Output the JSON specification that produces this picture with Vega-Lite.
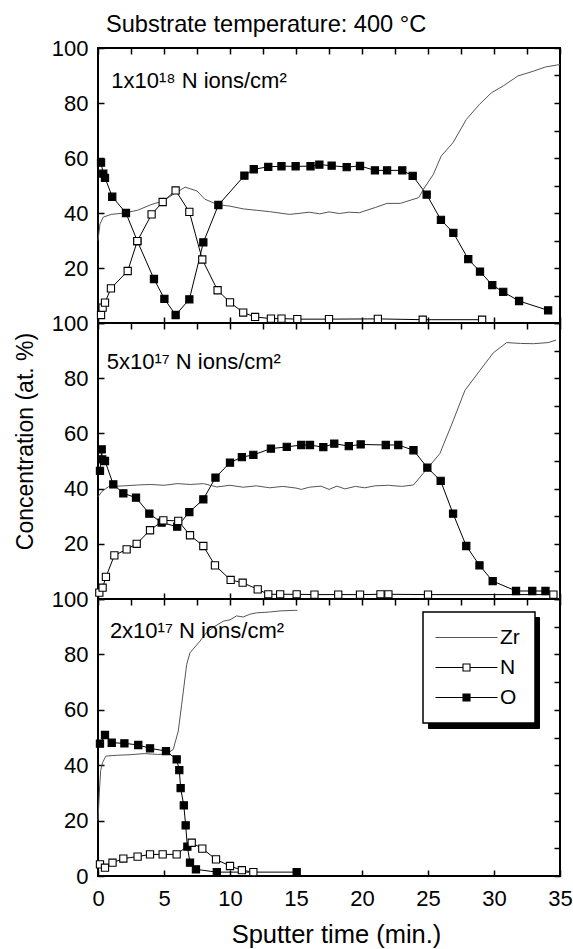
{
  "$schema": "https://vega.github.io/schema/vega-lite/v6.json",
  "background": "white",
  "padding": {"left": 12, "top": 12, "right": 0, "bottom": 0},
  "spacing": 0,
  "bounds": "flush",
  "datasets": {
    "profiles": [
      {"panel":1,"element":"O","time":0.23,"conc":58.3},{"panel":1,"element":"O","time":0.4,"conc":54.3},{"panel":1,"element":"O","time":0.53,"conc":52.8},{"panel":1,"element":"O","time":1.08,"conc":45.9},{"panel":1,"element":"O","time":2.12,"conc":40},{"panel":1,"element":"O","time":2.98,"conc":29.8},{"panel":1,"element":"O","time":4.24,"conc":16},{"panel":1,"element":"O","time":5.03,"conc":8.8},{"panel":1,"element":"O","time":5.88,"conc":2.9},{"panel":1,"element":"O","time":6.92,"conc":8.6},{"panel":1,"element":"O","time":7.98,"conc":29.3},{"panel":1,"element":"O","time":9.12,"conc":42.9},{"panel":1,"element":"O","time":11.09,"conc":53.6},{"panel":1,"element":"O","time":11.8,"conc":55.9},{"panel":1,"element":"O","time":12.9,"conc":56.8},{"panel":1,"element":"O","time":13.9,"conc":57},{"panel":1,"element":"O","time":14.97,"conc":57},{"panel":1,"element":"O","time":16.1,"conc":57},{"panel":1,"element":"O","time":16.77,"conc":57.6},{"panel":1,"element":"O","time":17.7,"conc":57.2},{"panel":1,"element":"O","time":18.84,"conc":56.7},{"panel":1,"element":"O","time":19.85,"conc":57.1},{"panel":1,"element":"O","time":20.98,"conc":55.5},{"panel":1,"element":"O","time":21.9,"conc":55.5},{"panel":1,"element":"O","time":23.05,"conc":55.5},{"panel":1,"element":"O","time":23.84,"conc":53.5},{"panel":1,"element":"O","time":24.9,"conc":46.7},{"panel":1,"element":"O","time":25.98,"conc":37.5},{"panel":1,"element":"O","time":26.92,"conc":32.8},{"panel":1,"element":"O","time":28.05,"conc":23.2},{"panel":1,"element":"O","time":28.94,"conc":18.7},{"panel":1,"element":"O","time":29.87,"conc":13.8},{"panel":1,"element":"O","time":30.7,"conc":11.3},{"panel":1,"element":"O","time":31.9,"conc":8},{"panel":1,"element":"O","time":34.1,"conc":4.6},
      {"panel":1,"element":"N","time":0.23,"conc":2.9},{"panel":1,"element":"N","time":0.35,"conc":5.6},{"panel":1,"element":"N","time":0.53,"conc":7.4},{"panel":1,"element":"N","time":0.98,"conc":12.6},{"panel":1,"element":"N","time":2.25,"conc":18.9},{"panel":1,"element":"N","time":2.98,"conc":29.8},{"panel":1,"element":"N","time":4.06,"conc":39.5},{"panel":1,"element":"N","time":4.9,"conc":44},{"panel":1,"element":"N","time":5.88,"conc":48.2},{"panel":1,"element":"N","time":6.92,"conc":40.4},{"panel":1,"element":"N","time":7.9,"conc":23.1},{"panel":1,"element":"N","time":9.06,"conc":11.9},{"panel":1,"element":"N","time":10,"conc":7.5},{"panel":1,"element":"N","time":11,"conc":3.8},{"panel":1,"element":"N","time":11.9,"conc":2.2},{"panel":1,"element":"N","time":13.1,"conc":1.6},{"panel":1,"element":"N","time":13.9,"conc":1.6},{"panel":1,"element":"N","time":15.1,"conc":1.4},{"panel":1,"element":"N","time":17.5,"conc":1.4},{"panel":1,"element":"N","time":21.2,"conc":1.5},{"panel":1,"element":"N","time":24.6,"conc":1.2},{"panel":1,"element":"N","time":29.1,"conc":1.2},
      {"panel":1,"element":"Zr","time":0,"conc":30},{"panel":1,"element":"Zr","time":0.15,"conc":36},{"panel":1,"element":"Zr","time":0.4,"conc":38.5},{"panel":1,"element":"Zr","time":1,"conc":39.5},{"panel":1,"element":"Zr","time":2,"conc":40},{"panel":1,"element":"Zr","time":3,"conc":41},{"panel":1,"element":"Zr","time":4,"conc":43},{"panel":1,"element":"Zr","time":5,"conc":44.5},{"panel":1,"element":"Zr","time":5.7,"conc":46.8},{"panel":1,"element":"Zr","time":6.6,"conc":49.4},{"panel":1,"element":"Zr","time":7.5,"conc":48},{"panel":1,"element":"Zr","time":8.1,"conc":45},{"panel":1,"element":"Zr","time":9.1,"conc":43},{"panel":1,"element":"Zr","time":10,"conc":42.5},{"panel":1,"element":"Zr","time":11,"conc":41.5},{"panel":1,"element":"Zr","time":12,"conc":41},{"panel":1,"element":"Zr","time":13,"conc":40.5},{"panel":1,"element":"Zr","time":14.5,"conc":39.5},{"panel":1,"element":"Zr","time":15.3,"conc":39.9},{"panel":1,"element":"Zr","time":16,"conc":40.3},{"panel":1,"element":"Zr","time":16.8,"conc":39.7},{"panel":1,"element":"Zr","time":17.5,"conc":40.4},{"panel":1,"element":"Zr","time":18.3,"conc":39.8},{"panel":1,"element":"Zr","time":19,"conc":40.3},{"panel":1,"element":"Zr","time":19.8,"conc":40.1},{"panel":1,"element":"Zr","time":21,"conc":42},{"panel":1,"element":"Zr","time":21.9,"conc":43.5},{"panel":1,"element":"Zr","time":22.9,"conc":43.5},{"panel":1,"element":"Zr","time":24.3,"conc":45.6},{"panel":1,"element":"Zr","time":24.65,"conc":48.6},{"panel":1,"element":"Zr","time":25.4,"conc":54},{"panel":1,"element":"Zr","time":26,"conc":60.7},{"panel":1,"element":"Zr","time":26.9,"conc":65.6},{"panel":1,"element":"Zr","time":27.9,"conc":74},{"panel":1,"element":"Zr","time":28.9,"conc":79.5},{"panel":1,"element":"Zr","time":29.8,"conc":83.7},{"panel":1,"element":"Zr","time":30.7,"conc":86.2},{"panel":1,"element":"Zr","time":31.8,"conc":89.8},{"panel":1,"element":"Zr","time":33,"conc":91.6},{"panel":1,"element":"Zr","time":33.9,"conc":93.1},{"panel":1,"element":"Zr","time":34.75,"conc":93.8},{"panel":1,"element":"Zr","time":35,"conc":94},
      {"panel":2,"element":"O","time":0.15,"conc":46.4},{"panel":2,"element":"O","time":0.28,"conc":54.2},{"panel":2,"element":"O","time":0.32,"conc":50.6},{"panel":2,"element":"O","time":0.53,"conc":50},{"panel":2,"element":"O","time":1.16,"conc":41.5},{"panel":2,"element":"O","time":1.92,"conc":38.3},{"panel":2,"element":"O","time":2.88,"conc":36.7},{"panel":2,"element":"O","time":3.89,"conc":30.9},{"panel":2,"element":"O","time":4.82,"conc":27.7},{"panel":2,"element":"O","time":6.0,"conc":26.2},{"panel":2,"element":"O","time":6.92,"conc":31.5},{"panel":2,"element":"O","time":7.98,"conc":36.1},{"panel":2,"element":"O","time":8.9,"conc":44},{"panel":2,"element":"O","time":10,"conc":49.4},{"panel":2,"element":"O","time":10.9,"conc":51.4},{"panel":2,"element":"O","time":11.77,"conc":52.2},{"panel":2,"element":"O","time":13.1,"conc":54.5},{"panel":2,"element":"O","time":14.3,"conc":55.1},{"panel":2,"element":"O","time":15.4,"conc":55.8},{"panel":2,"element":"O","time":16.06,"conc":55.8},{"panel":2,"element":"O","time":17.07,"conc":55},{"panel":2,"element":"O","time":17.9,"conc":56.3},{"panel":2,"element":"O","time":19,"conc":55.4},{"panel":2,"element":"O","time":19.9,"conc":56},{"panel":2,"element":"O","time":21.8,"conc":55.8},{"panel":2,"element":"O","time":22.75,"conc":55.8},{"panel":2,"element":"O","time":23.9,"conc":53.9},{"panel":2,"element":"O","time":24.95,"conc":47.6},{"panel":2,"element":"O","time":25.96,"conc":42.8},{"panel":2,"element":"O","time":26.9,"conc":30.9},{"panel":2,"element":"O","time":27.9,"conc":19.2},{"panel":2,"element":"O","time":28.9,"conc":12.2},{"panel":2,"element":"O","time":29.9,"conc":6.5},{"panel":2,"element":"O","time":31.67,"conc":2.9},{"panel":2,"element":"O","time":32.9,"conc":2.9},{"panel":2,"element":"O","time":33.9,"conc":2.9},
      {"panel":2,"element":"N","time":0.1,"conc":2.3},{"panel":2,"element":"N","time":0.35,"conc":4.1},{"panel":2,"element":"N","time":0.6,"conc":8},{"panel":2,"element":"N","time":1.24,"conc":15.8},{"panel":2,"element":"N","time":2.17,"conc":18},{"panel":2,"element":"N","time":2.93,"conc":20},{"panel":2,"element":"N","time":3.94,"conc":24.9},{"panel":2,"element":"N","time":4.95,"conc":28.5},{"panel":2,"element":"N","time":6.08,"conc":28.3},{"panel":2,"element":"N","time":6.97,"conc":23.1},{"panel":2,"element":"N","time":7.98,"conc":19.2},{"panel":2,"element":"N","time":8.86,"conc":12.2},{"panel":2,"element":"N","time":10.05,"conc":6.9},{"panel":2,"element":"N","time":10.96,"conc":5.9},{"panel":2,"element":"N","time":12.1,"conc":3.5},{"panel":2,"element":"N","time":12.9,"conc":1.7},{"panel":2,"element":"N","time":13.8,"conc":1.7},{"panel":2,"element":"N","time":15.05,"conc":1.7},{"panel":2,"element":"N","time":16.4,"conc":1.6},{"panel":2,"element":"N","time":18.2,"conc":1.6},{"panel":2,"element":"N","time":19.85,"conc":1.6},{"panel":2,"element":"N","time":21.4,"conc":1.7},{"panel":2,"element":"N","time":22,"conc":1.7},{"panel":2,"element":"N","time":25,"conc":1.6},{"panel":2,"element":"N","time":34.5,"conc":1.6},
      {"panel":2,"element":"Zr","time":0,"conc":37},{"panel":2,"element":"Zr","time":0.3,"conc":39},{"panel":2,"element":"Zr","time":0.8,"conc":40.7},{"panel":2,"element":"Zr","time":2,"conc":41},{"panel":2,"element":"Zr","time":3,"conc":41.3},{"panel":2,"element":"Zr","time":4,"conc":41.5},{"panel":2,"element":"Zr","time":5,"conc":41.2},{"panel":2,"element":"Zr","time":6,"conc":41.8},{"panel":2,"element":"Zr","time":7,"conc":41.5},{"panel":2,"element":"Zr","time":8,"conc":41.8},{"panel":2,"element":"Zr","time":9,"conc":40.6},{"panel":2,"element":"Zr","time":10,"conc":41.2},{"panel":2,"element":"Zr","time":11,"conc":40.5},{"panel":2,"element":"Zr","time":12,"conc":41},{"panel":2,"element":"Zr","time":13,"conc":40.3},{"panel":2,"element":"Zr","time":14,"conc":40.8},{"panel":2,"element":"Zr","time":15,"conc":40.2},{"panel":2,"element":"Zr","time":15.4,"conc":39.7},{"panel":2,"element":"Zr","time":16,"conc":40.5},{"panel":2,"element":"Zr","time":16.9,"conc":40.9},{"panel":2,"element":"Zr","time":17.5,"conc":39.7},{"panel":2,"element":"Zr","time":18.1,"conc":40.9},{"panel":2,"element":"Zr","time":18.7,"conc":39.9},{"panel":2,"element":"Zr","time":19.5,"conc":40.8},{"panel":2,"element":"Zr","time":20.2,"conc":40.3},{"panel":2,"element":"Zr","time":21,"conc":41},{"panel":2,"element":"Zr","time":22,"conc":41.2},{"panel":2,"element":"Zr","time":23,"conc":40.8},{"panel":2,"element":"Zr","time":23.9,"conc":41.3},{"panel":2,"element":"Zr","time":25,"conc":47.6},{"panel":2,"element":"Zr","time":25.9,"conc":52.7},{"panel":2,"element":"Zr","time":26.9,"conc":64.5},{"panel":2,"element":"Zr","time":27.8,"conc":75.6},{"panel":2,"element":"Zr","time":28.9,"conc":82.6},{"panel":2,"element":"Zr","time":29.95,"conc":89.2},{"panel":2,"element":"Zr","time":30.96,"conc":92.9},{"panel":2,"element":"Zr","time":32,"conc":92.6},{"panel":2,"element":"Zr","time":33,"conc":92.5},{"panel":2,"element":"Zr","time":34.1,"conc":92.9},{"panel":2,"element":"Zr","time":34.7,"conc":93.8},
      {"panel":3,"element":"O","time":0.15,"conc":47.8},{"panel":3,"element":"O","time":0.53,"conc":50.9},{"panel":3,"element":"O","time":1.04,"conc":48.1},{"panel":3,"element":"O","time":2,"conc":47.9},{"panel":3,"element":"O","time":3.05,"conc":47.3},{"panel":3,"element":"O","time":3.94,"conc":46.1},{"panel":3,"element":"O","time":5.15,"conc":45.1},{"panel":3,"element":"O","time":5.96,"conc":42.1},{"panel":3,"element":"O","time":6.16,"conc":38.2},{"panel":3,"element":"O","time":6.26,"conc":31.7},{"panel":3,"element":"O","time":6.5,"conc":25.5},{"panel":3,"element":"O","time":6.64,"conc":18.3},{"panel":3,"element":"O","time":6.77,"conc":10.6},{"panel":3,"element":"O","time":6.97,"conc":4.8},{"panel":3,"element":"O","time":7.42,"conc":2.4},{"panel":3,"element":"O","time":9,"conc":1.4},{"panel":3,"element":"O","time":15.05,"conc":1.4},
      {"panel":3,"element":"N","time":0.15,"conc":4.2},{"panel":3,"element":"N","time":0.53,"conc":3},{"panel":3,"element":"N","time":1.1,"conc":4.8},{"panel":3,"element":"N","time":1.92,"conc":6.3},{"panel":3,"element":"N","time":3,"conc":7},{"panel":3,"element":"N","time":3.94,"conc":7.8},{"panel":3,"element":"N","time":4.9,"conc":7.8},{"panel":3,"element":"N","time":5.96,"conc":7.8},{"panel":3,"element":"N","time":7.1,"conc":12},{"panel":3,"element":"N","time":7.9,"conc":9.9},{"panel":3,"element":"N","time":8.94,"conc":6},{"panel":3,"element":"N","time":10,"conc":3.6},{"panel":3,"element":"N","time":10.9,"conc":2.1},{"panel":3,"element":"N","time":11.77,"conc":1.4},
      {"panel":3,"element":"Zr","time":0,"conc":20},{"panel":3,"element":"Zr","time":0.1,"conc":30},{"panel":3,"element":"Zr","time":0.2,"conc":38},{"panel":3,"element":"Zr","time":0.35,"conc":41},{"panel":3,"element":"Zr","time":0.6,"conc":43.3},{"panel":3,"element":"Zr","time":1.5,"conc":43.6},{"panel":3,"element":"Zr","time":2.5,"conc":43.8},{"panel":3,"element":"Zr","time":3.5,"conc":44.2},{"panel":3,"element":"Zr","time":4.5,"conc":43.9},{"panel":3,"element":"Zr","time":5.2,"conc":44},{"panel":3,"element":"Zr","time":5.7,"conc":45.7},{"panel":3,"element":"Zr","time":6.08,"conc":52.3},{"panel":3,"element":"Zr","time":6.34,"conc":62},{"panel":3,"element":"Zr","time":6.72,"conc":76.4},{"panel":3,"element":"Zr","time":6.97,"conc":80.6},{"panel":3,"element":"Zr","time":7.73,"conc":84.8},{"panel":3,"element":"Zr","time":8.2,"conc":87.8},{"panel":3,"element":"Zr","time":8.8,"conc":90},{"panel":3,"element":"Zr","time":9.5,"conc":92},{"panel":3,"element":"Zr","time":10,"conc":92.5},{"panel":3,"element":"Zr","time":10.5,"conc":93.9},{"panel":3,"element":"Zr","time":11,"conc":93.5},{"panel":3,"element":"Zr","time":11.5,"conc":94.5},{"panel":3,"element":"Zr","time":12,"conc":95},{"panel":3,"element":"Zr","time":13,"conc":95.3},{"panel":3,"element":"Zr","time":13.8,"conc":95.7},{"panel":3,"element":"Zr","time":14.9,"conc":95.9},{"panel":3,"element":"Zr","time":15.1,"conc":95.9}
    ]
  },
  "vconcat": [
    {
      "width": 462, "height": 275,
      "title": {"text": "Substrate temperature: 400 °C", "anchor": "start", "frame": "group", "dx": 8, "offset": -19, "baseline": "alphabetic", "font": "Liberation Sans", "fontSize": 23.6, "fontWeight": "normal", "color": "black"},
      "layer": [
        {
          "data": {"name": "profiles"},
          "transform": [{"filter": "datum.panel === 1"}],
          "layer": [
            {
              "mark": {"type": "line", "strokeWidth": 1},
              "encoding": {
                "x": {"field": "time", "type": "quantitative", "scale": {"domain": [0, 35], "nice": false, "zero": false}, "axis": {"orient": "bottom", "values": [0,2.5,5,7.5,10,12.5,15,17.5,20,22.5,25,27.5,30,32.5,35], "labels": false, "title": null}},
                "y": {"field": "conc", "type": "quantitative", "scale": {"domain": [0, 100], "nice": false}, "axis": {"orient": "left", "values": [0,10,20,30,40,50,60,70,80,90,100], "labelExpr": "datum.value % 20 === 0 && datum.value > 0 ? datum.label : ''", "title": null}},
                "stroke": {"field": "element", "type": "nominal", "scale": {"domain": ["Zr", "N", "O"], "range": ["#555555", "black", "black"]}, "legend": null}
              }
            },
            {
              "transform": [{"filter": "datum.element !== 'Zr'"}],
              "mark": {"type": "point", "shape": "square", "size": 52, "filled": true, "opacity": 1, "strokeWidth": 1.1, "stroke": "black"},
              "encoding": {
                "x": {"field": "time", "type": "quantitative"},
                "y": {"field": "conc", "type": "quantitative"},
                "fill": {"field": "element", "type": "nominal", "scale": {"domain": ["N", "O"], "range": ["white", "black"]}, "legend": null}
              }
            }
          ]
        },
        {
          "data": {"values": [{"label": "1x10¹⁸ N ions/cm²"}]},
          "mark": {"type": "text", "align": "left", "baseline": "alphabetic", "font": "Liberation Sans", "fontSize": 22, "color": "black"},
          "encoding": {
            "text": {"field": "label"},
            "x": {"datum": 1.0, "type": "quantitative", "scale": {"domain": [0, 35], "nice": false, "zero": false}, "axis": {"orient": "top", "values": [0,2.5,5,7.5,10,12.5,15,17.5,20,22.5,25,27.5,30,32.5,35], "labels": false, "title": null}},
            "y": {"datum": 85.5, "type": "quantitative", "scale": {"domain": [0, 100], "nice": false}, "axis": {"orient": "right", "values": [0,10,20,30,40,50,60,70,80,90,100], "labels": false, "title": null}}
          }
        }
      ],
      "resolve": {"scale": {"x": "independent", "y": "independent"}}
    },
    {
      "width": 462, "height": 276,
      "layer": [
        {
          "data": {"name": "profiles"},
          "transform": [{"filter": "datum.panel === 2"}],
          "layer": [
            {
              "mark": {"type": "line", "strokeWidth": 1},
              "encoding": {
                "x": {"field": "time", "type": "quantitative", "scale": {"domain": [0, 35], "nice": false, "zero": false}, "axis": {"orient": "bottom", "values": [0,2.5,5,7.5,10,12.5,15,17.5,20,22.5,25,27.5,30,32.5,35], "labels": false, "title": null}},
                "y": {"field": "conc", "type": "quantitative", "scale": {"domain": [0, 100], "nice": false}, "axis": {"orient": "left", "values": [0,10,20,30,40,50,60,70,80,90,100], "labelExpr": "datum.value % 20 === 0 && datum.value > 0 ? datum.label : ''", "title": "Concentration (at. %)", "titleFontSize": 23, "titleX": -66, "titleY": 118, "titleBaseline": "alphabetic", "titleAngle": 270, "titleAlign": "center"}},
                "stroke": {"field": "element", "type": "nominal", "scale": {"domain": ["Zr", "N", "O"], "range": ["#555555", "black", "black"]}, "legend": null}
              }
            },
            {
              "transform": [{"filter": "datum.element !== 'Zr'"}],
              "mark": {"type": "point", "shape": "square", "size": 52, "filled": true, "opacity": 1, "strokeWidth": 1.1, "stroke": "black"},
              "encoding": {
                "x": {"field": "time", "type": "quantitative"},
                "y": {"field": "conc", "type": "quantitative"},
                "fill": {"field": "element", "type": "nominal", "scale": {"domain": ["N", "O"], "range": ["white", "black"]}, "legend": null}
              }
            }
          ]
        },
        {
          "data": {"values": [{"label": "5x10¹⁷ N ions/cm²"}]},
          "mark": {"type": "text", "align": "left", "baseline": "alphabetic", "font": "Liberation Sans", "fontSize": 22, "color": "black"},
          "encoding": {
            "text": {"field": "label"},
            "x": {"datum": 0.66, "type": "quantitative", "scale": {"domain": [0, 35], "nice": false, "zero": false}, "axis": {"orient": "top", "values": [0,2.5,5,7.5,10,12.5,15,17.5,20,22.5,25,27.5,30,32.5,35], "labels": false, "title": null}},
            "y": {"datum": 83.2, "type": "quantitative", "scale": {"domain": [0, 100], "nice": false}, "axis": {"orient": "right", "values": [0,10,20,30,40,50,60,70,80,90,100], "labels": false, "title": null}}
          }
        }
      ],
      "resolve": {"scale": {"x": "independent", "y": "independent"}}
    },
    {
      "width": 462, "height": 277,
      "layer": [
        {
          "data": {"name": "profiles"},
          "transform": [{"filter": "datum.panel === 3"}],
          "layer": [
            {
              "mark": {"type": "line", "strokeWidth": 1},
              "encoding": {
                "x": {"field": "time", "type": "quantitative", "scale": {"domain": [0, 35], "nice": false, "zero": false}, "axis": {"orient": "bottom", "values": [0,2.5,5,7.5,10,12.5,15,17.5,20,22.5,25,27.5,30,32.5,35], "labelExpr": "datum.value % 5 === 0 ? datum.label : ''", "labelPadding": 18, "title": "Sputter time (min.)", "titleFontSize": 25.5, "titleBaseline": "alphabetic", "titleY": 66, "titleX": 238}},
                "y": {"field": "conc", "type": "quantitative", "scale": {"domain": [0, 100], "nice": false}, "axis": {"orient": "left", "values": [0,10,20,30,40,50,60,70,80,90,100], "labelExpr": "datum.value % 20 === 0 ? datum.label : ''", "title": null}},
                "stroke": {"field": "element", "type": "nominal", "scale": {"domain": ["Zr", "N", "O"], "range": ["#555555", "black", "black"]},
                  "legend": {"orient": "none", "legendX": 325, "legendY": 13, "zindex": 2, "title": null, "strokeColor": "black", "fillColor": "white", "padding": 15, "labelFont": "Liberation Sans", "labelFontSize": 21, "labelColor": "black", "symbolSize": 100, "symbolOffset": 18, "labelOffset": 23, "rowPadding": 8,
                    "encode": {
                      "legend": {"update": {"strokeWidth": {"value": 1.5}}},
                      "symbols": {"update": {
                        "shape": {"signal": "datum.value === 'Zr' ? 'M-6.2,0H6.2' : 'M-6.2,0H-0.7M0.7,0H6.2M-0.7,-0.7H0.7V0.7H-0.7Z'"},
                        "fill": {"signal": "datum.value === 'O' ? 'black' : datum.value === 'N' ? 'white' : 'transparent'"},
                        "stroke": {"signal": "datum.value === 'Zr' ? '#555555' : 'black'"},
                        "strokeWidth": {"value": 1.1},
                        "size": {"value": 100},
                        "opacity": {"value": 1}
                      }}
                    }
                  }
                }
              }
            },
            {
              "transform": [{"filter": "datum.element !== 'Zr'"}],
              "mark": {"type": "point", "shape": "square", "size": 52, "filled": true, "opacity": 1, "strokeWidth": 1.1, "stroke": "black"},
              "encoding": {
                "x": {"field": "time", "type": "quantitative"},
                "y": {"field": "conc", "type": "quantitative"},
                "fill": {"field": "element", "type": "nominal", "scale": {"domain": ["N", "O"], "range": ["white", "black"]},
                  "legend": {"orient": "none", "legendX": 330, "legendY": 18, "zindex": 1, "title": null, "strokeColor": "black", "fillColor": "black", "padding": 10, "labelFont": "Liberation Sans", "labelFontSize": 21, "labelExpr": "''", "symbolSize": 100, "symbolOffset": 0, "labelOffset": 70, "rowPadding": 48,
                    "encode": {
                      "symbols": {"update": {"opacity": {"value": 0}}}
                    }
                  }
                }
              }
            }
          ]
        },
        {
          "data": {"values": [{"label": "2x10¹⁷ N ions/cm²"}]},
          "mark": {"type": "text", "align": "left", "baseline": "alphabetic", "font": "Liberation Sans", "fontSize": 22, "color": "black"},
          "encoding": {
            "text": {"field": "label"},
            "x": {"datum": 0.9, "type": "quantitative", "scale": {"domain": [0, 35], "nice": false, "zero": false}, "axis": {"orient": "top", "values": [0,2.5,5,7.5,10,12.5,15,17.5,20,22.5,25,27.5,30,32.5,35], "labels": false, "title": null}},
            "y": {"datum": 86, "type": "quantitative", "scale": {"domain": [0, 100], "nice": false}, "axis": {"orient": "right", "values": [0,10,20,30,40,50,60,70,80,90,100], "labels": false, "title": null}}
          }
        }
      ],
      "resolve": {"scale": {"x": "independent", "y": "independent"}}
    }
  ],
  "resolve": {"scale": {"stroke": "independent", "fill": "independent"}, "legend": {"stroke": "independent", "fill": "independent"}},
  "config": {
    "font": "Liberation Sans",
    "view": {"stroke": "black", "strokeWidth": 2},
    "axis": {"domain": false, "grid": false, "ticks": true, "tickSize": -6, "tickWidth": 1.5, "tickColor": "black", "labelFont": "Liberation Sans", "labelFontSize": 22, "labelColor": "black", "labelFlush": false, "labelOverlap": false, "labelBound": false, "titleFont": "Liberation Sans", "titleFontWeight": "normal", "titleColor": "black", "minExtent": 0, "offset": 0},
    "axisLeft": {"labelPadding": 16}
  }
}
